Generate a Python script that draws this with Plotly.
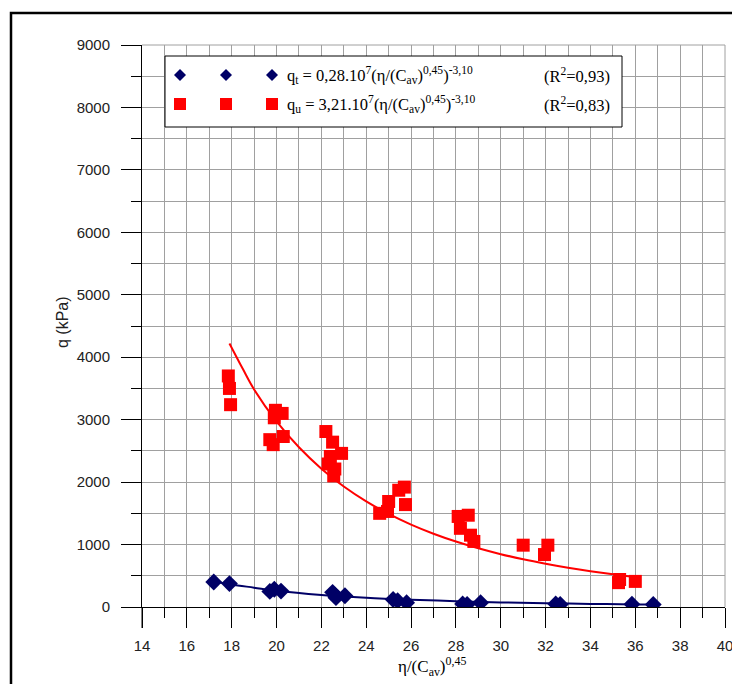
import plotly.graph_objects as go

# ---------------- data ----------------
red_x = [17.85, 17.9, 17.95, 19.95, 19.9, 20.25, 19.7, 19.85, 20.3,
         22.2, 22.5, 22.9, 22.4, 22.3, 22.6, 22.55,
         24.6, 24.95, 25.0, 25.45, 25.7, 25.75,
         28.1, 28.55, 28.2, 28.65, 28.8,
         31.0, 32.1, 31.95, 35.25, 35.3, 36.0]
red_y = [3700, 3500, 3240, 3150, 3030, 3100, 2680, 2600, 2730,
         2810, 2640, 2460, 2410, 2290, 2210, 2100,
         1500, 1530, 1690, 1870, 1920, 1640,
         1450, 1470, 1260, 1150, 1050,
         990, 990, 840, 390, 440, 410]

blue_x = [17.2, 17.9, 19.7, 19.9, 20.2, 22.5, 22.6, 22.65, 23.05,
          25.2, 25.4, 25.8, 28.3, 28.5, 29.1, 32.45, 32.65, 35.85, 36.8]
blue_y = [400, 375, 250, 285, 255, 235, 190, 150, 180,
          120, 100, 70, 50, 40, 70, 50, 40, 45, 40]

# trend curves
red_fit_x = [17.9, 18.5, 19, 20, 21, 22, 23, 24, 25, 26, 27, 28, 29, 30, 31, 32, 33, 34, 35, 36]
red_fit_y = [4220, 3810, 3484, 2972, 2558, 2215, 1929, 1691, 1490, 1319, 1173, 1048,
             940, 846, 764, 693, 630, 574, 525, 481]
blue_fit_x = [17.2, 18, 19, 20, 22, 24, 26, 28, 30, 32, 34, 36, 36.8]
blue_fit_y = [410, 360, 310, 260, 193, 148, 117, 93, 74, 60, 50, 42, 39]

x_ticks = list(range(14, 41, 2))
y_ticks = list(range(0, 9001, 1000))

legend_t = "q<sub>t</sub> = 0,28.10<sup>7</sup>(η/(C<sub>av</sub>)<sup>0,45</sup>)<sup>-3,10</sup>"
legend_u = "q<sub>u</sub> = 3,21.10<sup>7</sup>(η/(C<sub>av</sub>)<sup>0,45</sup>)<sup>-3,10</sup>"
r2_t = "(R<sup>2</sup>=0,93)"
r2_u = "(R<sup>2</sup>=0,83)"

# ---------------- layout helpers (page pixel -> paper) ----------------
W, H = 740, 684
OFF = 8  # page body margin
L, R, T, B = 142, 725, 45, 607   # plot area in page pixels
def px(x): return (x - L) / (R - L)
def py(y): return (B - y) / (B - T)

NAVY = "#000066"
RED = "#ff0000"

fig = go.Figure()
fig.add_trace(go.Scatter(x=red_fit_x, y=red_fit_y, mode="lines",
                         line=dict(color=RED, width=2, shape="spline"), showlegend=False))
fig.add_trace(go.Scatter(x=blue_fit_x, y=blue_fit_y, mode="lines",
                         line=dict(color=NAVY, width=2, shape="spline"), showlegend=False))
fig.add_trace(go.Scatter(x=red_x, y=red_y, mode="markers",
                         marker=dict(symbol="square", size=13, color=RED), showlegend=False))
fig.add_trace(go.Scatter(x=blue_x, y=blue_y, mode="markers",
                         marker=dict(symbol="diamond", size=13, color=NAVY), showlegend=False))

grid = "#a0a0a0"
tickfont = dict(family="Liberation Sans, Arial", size=15, color="#222222")
fig.update_xaxes(range=[14, 40], tickvals=x_ticks, ticks="outside", ticklen=20,
                 tickcolor="#000", tickwidth=1, showgrid=True, gridcolor=grid, gridwidth=1,
                 minor=dict(dtick=1, ticks="outside", ticklen=10, tickcolor="#000",
                            showgrid=True, gridcolor=grid, gridwidth=1),
                 showline=True, linecolor="#000", linewidth=1, zeroline=False,
                 tickfont=tickfont, ticklabelstandoff=5)
fig.update_yaxes(range=[0, 9000], tickvals=y_ticks, ticks="outside", ticklen=20,
                 tickcolor="#000", tickwidth=1, showgrid=True, gridcolor=grid, gridwidth=1,
                 minor=dict(dtick=500, ticks="outside", ticklen=10, tickcolor="#000",
                            showgrid=True, gridcolor=grid, gridwidth=1),
                 showline=True, linecolor="#000", linewidth=1, zeroline=False,
                 tickfont=tickfont, ticklabelstandoff=8)

shapes = []
shapes.append(dict(type="line", xref="paper", yref="paper", x0=1, x1=1, y0=0, y1=1,
                   line=dict(color=grid, width=1)))
shapes.append(dict(type="line", xref="paper", yref="paper", x0=0, x1=1, y0=1, y1=1,
                   line=dict(color=grid, width=1)))
# y axis line extends down to the tick end
shapes.append(dict(type="line", xref="paper", yref="paper", x0=0, x1=0, y0=py(628), y1=0,
                   line=dict(color="#000", width=1)))
# outer frame
shapes.append(dict(type="rect", xref="paper", yref="paper", x0=px(11), x1=px(746),
                   y0=py(700), y1=py(13), line=dict(color="#000", width=2.5), layer="above"))
# legend box
shapes.append(dict(type="rect", xref="paper", yref="paper", x0=px(165), x1=px(622),
                   y0=py(127), y1=py(56), line=dict(color="#000", width=1),
                   fillcolor="white", layer="above"))
for cx in (180, 226, 272):
    cy = 75
    d = 6
    shapes.append(dict(type="path", xref="paper", yref="paper",
                       path=f"M {px(cx-d)},{py(cy)} L {px(cx)},{py(cy-d)} L {px(cx+d)},{py(cy)} L {px(cx)},{py(cy+d)} Z",
                       fillcolor=NAVY, line=dict(color=NAVY, width=0), layer="above"))
    cy = 104
    s = 6
    shapes.append(dict(type="rect", xref="paper", yref="paper",
                       x0=px(cx-s), x1=px(cx+s), y0=py(cy+s), y1=py(cy-s),
                       fillcolor=RED, line=dict(color=RED, width=0), layer="above"))

serif = dict(family="Liberation Serif, Times New Roman", size=16.5, color="#000")
ann = [
    dict(text=legend_t, x=px(285), y=py(75), xanchor="left", yanchor="middle", font=serif),
    dict(text=legend_u, x=px(285), y=py(104), xanchor="left", yanchor="middle", font=serif),
    dict(text=r2_t, x=px(612), y=py(75), xanchor="right", yanchor="middle", font=serif),
    dict(text=r2_u, x=px(612), y=py(104), xanchor="right", yanchor="middle", font=serif),
    dict(text="η/(C<sub>av</sub>)<sup>0,45</sup>", x=px(432), y=py(666), xanchor="center",
         yanchor="middle", font=dict(family="Liberation Serif, Times New Roman", size=17, color="#000")),
    dict(text="q (kPa)", x=px(62), y=py(322), xanchor="center", yanchor="middle", textangle=-90,
         font=dict(family="Liberation Sans, Arial", size=16, color="#222")),
]
for a in ann:
    a.update(xref="paper", yref="paper", showarrow=False)

fig.update_layout(width=W, height=H,
                  margin=dict(l=L - OFF, r=W - (R - OFF), t=T - OFF, b=H - (B - OFF), autoexpand=False),
                  paper_bgcolor="white", plot_bgcolor="white",
                  shapes=shapes, annotations=ann, showlegend=False)

fig.write_html("out.html")
